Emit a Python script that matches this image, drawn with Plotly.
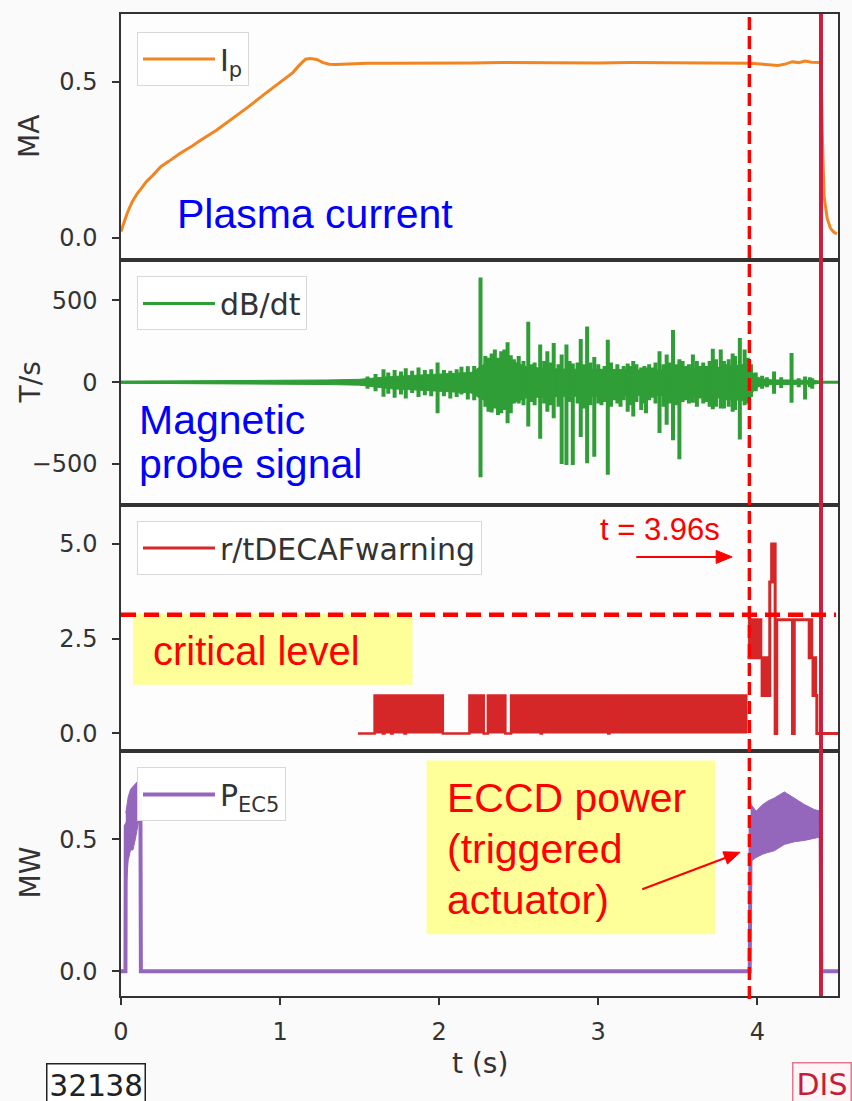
import math
import plotly.graph_objects as go
from plotly.subplots import make_subplots

# ---------------- data ----------------
# Plasma current Ip [MA]
ip_t = [0.00, 0.02, 0.04, 0.07, 0.10, 0.13, 0.16, 0.20, 0.25, 0.30, 0.37, 0.45, 0.50, 0.60,
        0.70, 0.80, 0.90, 1.00, 1.08, 1.12, 1.16, 1.19, 1.23, 1.27, 1.31, 1.35, 1.45, 1.55,
        1.70, 1.85, 2.00, 2.20, 2.40, 2.60, 2.80, 3.00, 3.20, 3.40, 3.60, 3.80, 3.95, 4.05,
        4.13, 4.18, 4.22, 4.26, 4.30, 4.34, 4.38, 4.40, 4.41, 4.42, 4.44, 4.46, 4.48, 4.50]
ip_v = [0.02, 0.05, 0.08, 0.115, 0.14, 0.16, 0.18, 0.20, 0.228, 0.245, 0.27, 0.295, 0.313, 0.345,
        0.382, 0.42, 0.46, 0.50, 0.53, 0.553, 0.573, 0.575, 0.572, 0.562, 0.557, 0.556, 0.558, 0.56,
        0.56, 0.561, 0.562, 0.561, 0.562, 0.561, 0.562, 0.561, 0.562, 0.561, 0.562, 0.561, 0.56, 0.556,
        0.553, 0.558, 0.565, 0.562, 0.567, 0.563, 0.563, 0.562, 0.30, 0.13, 0.06, 0.03, 0.018, 0.012]

# Magnetic probe dB/dt [T/s]: dense oscillation envelope
db_band_t = [0.00, 0.50, 1.00, 1.30, 1.50, 1.60, 1.70, 1.80, 1.90, 2.00, 2.10, 2.20, 2.26, 2.30,
             2.36, 2.42, 2.48, 2.55, 2.65, 2.80, 3.00, 3.20, 3.40, 3.60, 3.75, 3.85, 3.93, 3.97,
             4.00, 4.05, 4.10, 4.20, 4.30, 4.37, 4.39]
db_band_hi = [6, 8, 10, 14, 18, 28, 35, 40, 45, 50, 55, 60, 95, 120,
              130, 140, 120, 95, 85, 80, 80, 75, 75, 80, 90, 100, 110, 60,
              30, 18, 14, 14, 14, 10, 5]
db_band_lo = [-6, -8, -10, -14, -18, -30, -40, -45, -50, -55, -60, -65, -100, -115,
              -130, -145, -120, -95, -90, -85, -85, -80, -80, -85, -95, -105, -115, -60,
              -30, -18, -14, -14, -14, -10, -5]
# Magnetic probe dB/dt: large spikes (time, max, min)
db_spike_t = [1.65, 1.72, 1.79, 1.87, 1.99, 2.07, 2.18, 2.26, 2.31, 2.35, 2.39, 2.43, 2.47, 2.50,
              2.56, 2.60, 2.635, 2.68, 2.72, 2.77, 2.80, 2.84, 2.89, 2.93, 2.975, 3.02, 3.06, 3.10,
              3.14, 3.185, 3.22, 3.27, 3.30, 3.34, 3.385, 3.43, 3.47, 3.51, 3.55, 3.595, 3.64, 3.68,
              3.72, 3.77, 3.80, 3.845, 3.89, 3.92, 4.105, 4.215, 4.30, 4.345]
db_spike_hi = [80, 75, 85, 90, 120, 70, 98, 640, 150, 200, 190, 245, 140, 160,
               370, 120, 230, 190, 240, 170, 230, 115, 265, 340, 155, 80, 260, 80,
               80, 115, 130, 90, 90, 90, 190, 170, 320, 140, 100, 170, 100, 100,
               205, 200, 110, 175, 270, 200, 65, 178, 35, 25]
db_spike_lo = [-88, -95, -100, -90, -190, -100, -105, -580, -180, -160, -190, -250, -130, -130,
               -270, -140, -345, -180, -220, -500, -505, -505, -335, -495, -455, -140, -565, -110,
               -150, -180, -210, -170, -190, -95, -310, -260, -355, -470, -110, -125, -100, -120,
               -165, -160, -110, -180, -350, -140, -70, -125, -105, -40]
# Magnetic probe dB/dt: smaller bursts inside the dense band
db_minor_t = [1.55, 1.60, 1.68, 1.76, 1.83, 1.91, 1.95, 2.03, 2.11, 2.14, 2.22, 2.29, 2.33, 2.37,
              2.41, 2.45, 2.53, 2.58, 2.66, 2.70, 2.75, 2.82, 2.87, 2.91, 2.95, 3.00, 3.04, 3.08,
              3.12, 3.16, 3.20, 3.24, 3.29, 3.32, 3.36, 3.41, 3.45, 3.49, 3.53, 3.57, 3.62, 3.66,
              3.70, 3.74, 3.79, 3.82, 3.86, 3.94, 3.96, 3.99, 4.03, 4.06, 4.15, 4.26, 4.33]
db_minor_hi = [35, 50, 60, 65, 70, 75, 80, 75, 80, 95, 100, 160, 175, 150,
               200, 165, 130, 110, 130, 120, 110, 130, 120, 110, 120, 110, 100, 120,
               110, 100, 100, 110, 100, 110, 120, 110, 120, 110, 130, 110, 130, 120,
               130, 140, 130, 140, 160, 150, 110, 60, 40, 30, 30, 25, 30]
db_minor_lo = [-40, -55, -70, -75, -65, -80, -85, -85, -90, -75, -110, -150, -185, -200,
               -170, -190, -140, -120, -130, -140, -150, -120, -130, -160, -140, -130, -120, -150,
               -130, -110, -140, -120, -130, -110, -130, -150, -130, -140, -120, -130, -150, -130,
               -150, -150, -160, -150, -170, -130, -90, -55, -40, -30, -35, -30, -30]
db_base_t = [0.0, 4.507]
db_base_v = [0, 0]

# r/tDECAF warning level (step signal)
warn_t = [1.49, 1.594, 1.646, 1.656, 1.698, 1.707, 1.782, 1.792, 2.023, 2.190, 2.280, 2.306,
          2.416, 2.452, 2.638, 2.646, 3.063, 3.070, 3.938]
warn_v = [0, 1, 0, 1, 0, 1, 0, 1, 0, 1, 0, 1,
          0, 1, 0, 1, 0, 1, 1]
warn2_t = [3.938, 3.950, 3.958, 3.966, 3.974, 3.982, 3.990, 3.998, 4.006, 4.014, 4.022, 4.030,
           4.038, 4.046, 4.054, 4.062, 4.078, 4.090, 4.100, 4.106, 4.112, 4.122, 4.221, 4.232,
           4.326, 4.334, 4.342, 4.350, 4.358, 4.366, 4.374, 4.507]
warn2_v = [2, 3, 2, 3, 2, 3, 2, 3, 2, 3, 2, 1,
           2, 1, 2, 1, 4, 5, 4, 5, 0, 3, 0, 3,
           2, 3, 2, 1, 2, 1, 0, 0]
critical_level = 3.13

# ECCD power P_EC5 [MW]
pec_t = [0.00, 0.028, 0.030, 0.122, 0.125, 3.952, 3.958, 4.398, 4.402, 4.507]
pec_v = [0.00, 0.00, 0.55, 0.65, 0.00, 0.00, 0.55, 0.56, 0.00, 0.00]
pec_b1_t = [0.030, 0.045, 0.060, 0.075, 0.090, 0.105, 0.120]
pec_b1_hi = [0.60, 0.66, 0.69, 0.70, 0.71, 0.72, 0.72]
pec_b1_lo = [0.30, 0.42, 0.46, 0.46, 0.50, 0.55, 0.60]
pec_b2_t = [3.958, 3.961, 3.992, 4.034, 4.065, 4.107, 4.170, 4.233, 4.296, 4.358, 4.396]
pec_b2_hi = [0.64, 0.632, 0.607, 0.632, 0.645, 0.657, 0.68, 0.657, 0.632, 0.613, 0.607]
pec_b2_lo = [0.44, 0.418, 0.431, 0.444, 0.45, 0.457, 0.481, 0.491, 0.496, 0.504, 0.509]

t_trigger = 3.95
t_disrupt = 4.40

x_ticks = [0, 1, 2, 3, 4]
x_ticktext = ["0", "1", "2", "3", "4"]

# ---------------- styling ----------------
C_OR = "#f28522"
C_GR = "#2f9e36"
C_RD = "#d62728"
C_PU = "#9467bd"
AX = "#333333"
TICKFONT = dict(family="DejaVu Sans", size=24, color=AX)

# plot area: x 121..839 px, y 12..996 px
L, R, T, B = 121, 839, 12, 996
W, H = 852, 1101


def px2x(px):
    return (px - L) / (R - L)


def py2y(py):
    return (B - py) / (B - T)


def arrow_shapes(tail, head, color="#ff0000", width=2, head_len=16, head_half=6.5):
    """Annotation arrow (line + filled head), positions in page pixels."""
    dx, dy = head[0] - tail[0], head[1] - tail[1]
    n = math.hypot(dx, dy)
    ux, uy = dx / n, dy / n
    nx, ny = -uy, ux
    bx, by = head[0] - head_len * ux, head[1] - head_len * uy
    p1 = (bx + head_half * nx, by + head_half * ny)
    p2 = (bx - head_half * nx, by - head_half * ny)
    line = dict(type="line", xref="paper", yref="paper", x0=px2x(tail[0]), y0=py2y(tail[1]),
                x1=px2x(bx + 2 * ux), y1=py2y(by + 2 * uy), line=dict(color=color, width=width),
                layer="above")
    path = "M {:.5f},{:.5f} L {:.5f},{:.5f} L {:.5f},{:.5f} Z".format(
        px2x(head[0]), py2y(head[1]), px2x(p1[0]), py2y(p1[1]), px2x(p2[0]), py2y(p2[1]))
    tri = dict(type="path", xref="paper", yref="paper", path=path, fillcolor=color,
               line=dict(color=color, width=1), layer="above")
    return [line, tri]


fig = make_subplots(rows=4, cols=1, shared_xaxes=True, vertical_spacing=0)

# panel 1
fig.add_trace(go.Scatter(x=ip_t, y=ip_v, mode="lines", line=dict(color=C_OR, width=3),
                         name="I<sub>p</sub>", legend="legend"), row=1, col=1)

# panel 2
fig.add_trace(go.Scatter(x=db_base_t, y=db_base_v, mode="lines", line=dict(color=C_GR, width=3),
                         name="dB/dt", legend="legend2"), row=2, col=1)
fig.add_trace(go.Scatter(x=db_band_t, y=db_band_lo, mode="lines", line=dict(color=C_GR, width=1),
                         showlegend=False), row=2, col=1)
fig.add_trace(go.Scatter(x=db_band_t, y=db_band_hi, mode="lines", line=dict(color=C_GR, width=1),
                         fill="tonexty", fillcolor=C_GR, showlegend=False), row=2, col=1)
sx, sy = [], []
for t, hi, lo in zip(db_minor_t + db_spike_t, db_minor_hi + db_spike_hi, db_minor_lo + db_spike_lo):
    sx += [t, t, None]
    sy += [hi, lo, None]
fig.add_trace(go.Scatter(x=sx, y=sy, mode="lines", line=dict(color=C_GR, width=4),
                         connectgaps=False, showlegend=False), row=2, col=1)

# panel 3
fig.add_trace(go.Scatter(x=warn_t, y=warn_v, mode="lines", line=dict(color=C_RD, width=2.5, shape="hv"),
                         fill="tozeroy", fillcolor=C_RD, showlegend=False), row=3, col=1)
fig.add_trace(go.Scatter(x=warn2_t, y=warn2_v, mode="lines", line=dict(color=C_RD, width=3, shape="hv"),
                         name="r/tDECAFwarning", legend="legend3"), row=3, col=1)

# panel 4
fig.add_trace(go.Scatter(x=pec_t, y=pec_v, mode="lines", line=dict(color=C_PU, width=4),
                         name="P<sub>EC5</sub>", legend="legend4"), row=4, col=1)
fig.add_trace(go.Scatter(x=pec_b1_t, y=pec_b1_lo, mode="lines", line=dict(color=C_PU, width=1),
                         showlegend=False), row=4, col=1)
fig.add_trace(go.Scatter(x=pec_b1_t, y=pec_b1_hi, mode="lines", line=dict(color=C_PU, width=1),
                         fill="tonexty", fillcolor=C_PU, showlegend=False), row=4, col=1)
fig.add_trace(go.Scatter(x=pec_b2_t, y=pec_b2_lo, mode="lines", line=dict(color=C_PU, width=1),
                         showlegend=False), row=4, col=1)
fig.add_trace(go.Scatter(x=pec_b2_t, y=pec_b2_hi, mode="lines", line=dict(color=C_PU, width=1),
                         fill="tonexty", fillcolor=C_PU, showlegend=False), row=4, col=1)

# axes
yranges = [[-0.07, 0.718], [-750, 750], [-0.45, 6.03], [-0.094, 0.837]]
yticks = [([0, 0.5], ["0.0", "0.5"]),
          ([-500, 0, 500], ["\u2212500", "0", "500"]),
          ([0, 2.5, 5], ["0.0", "2.5", "5.0"]),
          ([0, 0.5], ["0.0", "0.5"])]
for i in range(4):
    fig.update_yaxes(row=i + 1, col=1, range=yranges[i], tickvals=yticks[i][0], ticktext=yticks[i][1],
                     showline=True, mirror=True, linecolor=AX, linewidth=1.5, ticks="outside",
                     ticklen=7, tickwidth=1.5, tickcolor=AX, tickfont=TICKFONT, showgrid=False,
                     zeroline=False, ticklabelstandoff=10)
    fig.update_xaxes(row=i + 1, col=1, range=[0, 4.507], tickvals=x_ticks, ticktext=x_ticktext,
                     showline=True, mirror=True, linecolor=AX, linewidth=1.5,
                     ticks="outside" if i == 3 else "", ticklen=7, tickwidth=1.5, tickcolor=AX,
                     tickfont=TICKFONT, showgrid=False, zeroline=False,
                     showticklabels=(i == 3), ticklabelstandoff=6)

legend_common = dict(xanchor="left", yanchor="top", bgcolor="rgba(255,255,255,0.95)",
                     bordercolor="#d8d8d8", borderwidth=1, itemwidth=72,
                     font=dict(family="DejaVu Sans", size=30, color=AX))
fig.update_layout(
    legend=dict(x=px2x(137), y=py2y(30), **legend_common),
    legend2=dict(x=px2x(137), y=py2y(275), **legend_common),
    legend3=dict(x=px2x(137), y=py2y(520), **legend_common),
    legend4=dict(x=px2x(137), y=py2y(767), **legend_common),
)

# shapes
shapes = [
    dict(type="rect", xref="paper", yref="paper", x0=px2x(133), x1=px2x(413), y0=py2y(684), y1=py2y(613),
         fillcolor="#ffff99", line=dict(width=0), layer="above"),
    dict(type="rect", xref="paper", yref="paper", x0=px2x(427), x1=px2x(716), y0=py2y(934), y1=py2y(760),
         fillcolor="#ffff99", line=dict(width=0), layer="above"),
    dict(type="line", xref="x", yref="paper", x0=t_disrupt, x1=t_disrupt, y0=0, y1=1,
         line=dict(color="#cc1f3f", width=4), layer="above"),
    dict(type="line", xref="paper", yref="y3", x0=0, x1=px2x(837), y0=critical_level, y1=critical_level,
         line=dict(color="#ff0000", width=4.5, dash="15px,8px"), layer="above"),
    dict(type="line", xref="x", yref="paper", x0=t_trigger, x1=t_trigger, y0=py2y(999), y1=py2y(10),
         line=dict(color="#ff0000", width=3.5, dash="13px,6px"), layer="above"),
]
shapes += arrow_shapes((637, 556), (733, 556))
shapes += arrow_shapes((643, 889), (741, 852))

ARIAL = "Liberation Sans, Arial"
ann = [
    dict(text="Plasma current", x=px2x(175), y=py2y(212), xanchor="left", yanchor="middle",
         font=dict(family=ARIAL, size=41, color="#0000ff")),
    dict(text="Magnetic", x=px2x(137), y=py2y(419), xanchor="left", yanchor="middle",
         font=dict(family=ARIAL, size=41, color="#0000ff")),
    dict(text="probe signal", x=px2x(137), y=py2y(463), xanchor="left", yanchor="middle",
         font=dict(family=ARIAL, size=41, color="#0000ff")),
    dict(text="critical level", x=px2x(151), y=py2y(650), xanchor="left", yanchor="middle",
         font=dict(family=ARIAL, size=40, color="#ff0000")),
    dict(text="t = 3.96s", x=px2x(661), y=py2y(529), xanchor="center", yanchor="middle",
         font=dict(family=ARIAL, size=31, color="#ff0000")),
    dict(text="ECCD power", x=px2x(445), y=py2y(798), xanchor="left", yanchor="middle",
         font=dict(family=ARIAL, size=41, color="#ff0000")),
    dict(text="(triggered", x=px2x(445), y=py2y(849), xanchor="left", yanchor="middle",
         font=dict(family=ARIAL, size=41, color="#ff0000")),
    dict(text="actuator)", x=px2x(445), y=py2y(900), xanchor="left", yanchor="middle",
         font=dict(family=ARIAL, size=41, color="#ff0000")),
    # axis titles
    dict(text="MA", x=px2x(30), y=py2y(135), xanchor="center", yanchor="middle", textangle=-90,
         font=dict(family="DejaVu Sans", size=28, color=AX)),
    dict(text="T/s", x=px2x(30), y=py2y(381), xanchor="center", yanchor="middle", textangle=-90,
         font=dict(family="DejaVu Sans", size=28, color=AX)),
    dict(text="MW", x=px2x(30), y=py2y(872), xanchor="center", yanchor="middle", textangle=-90,
         font=dict(family="DejaVu Sans", size=28, color=AX)),
    dict(text="t (s)", x=px2x(480), y=py2y(1064), xanchor="center", yanchor="middle",
         font=dict(family="DejaVu Sans", size=28, color=AX)),
    # boxed labels
    dict(text="32138", x=px2x(46), y=py2y(1063), xanchor="left", yanchor="top",
         bordercolor="#222222", borderwidth=1.5, borderpad=2, bgcolor="#ffffff",
         font=dict(family="DejaVu Sans Mono", size=31, color="#222222")),
    dict(text="DIS", x=px2x(793), y=py2y(1062), xanchor="left", yanchor="top",
         bordercolor="#e07a90", borderwidth=1.5, borderpad=3, bgcolor="#fff4f6",
         font=dict(family="DejaVu Sans", size=30, color="#c41e3a")),
]
for a in ann:
    a.setdefault("xref", "paper")
    a.setdefault("yref", "paper")
    a.setdefault("showarrow", False)

fig.update_layout(
    width=W, height=H, autosize=False,
    margin=dict(l=L, r=W - R, t=T, b=H - B, pad=0),
    paper_bgcolor="#fafafa", plot_bgcolor="#fdfdfd",
    shapes=shapes, annotations=ann,
)

fig.write_html("out.html")
